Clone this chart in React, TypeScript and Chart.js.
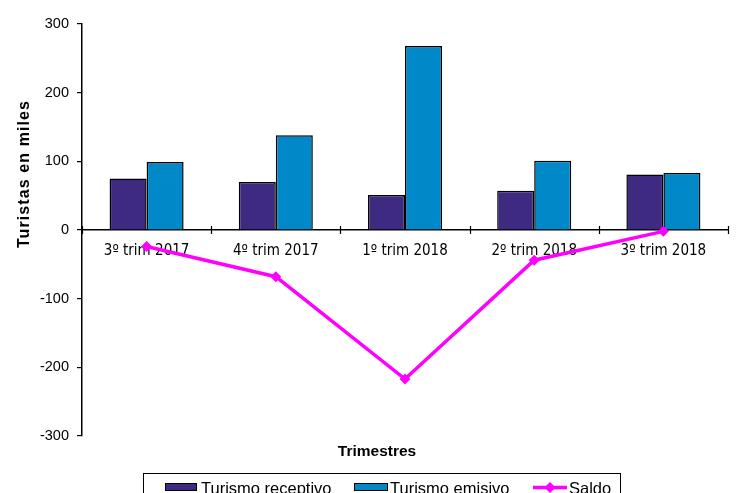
import React, { useEffect, useRef } from "react";
import { Chart, registerables } from "chart.js";

Chart.register(...registerables);

const categories = ["3º trim 2017", "4º trim 2017", "1º trim 2018", "2º trim 2018", "3º trim 2018"];
const receptivo = [75, 70, 51, 57, 81];
const emisivo = [99, 138, 268, 101, 83];
const saldo = [-24, -68, -217, -44, -2];
const yTicks = [-300, -200, -100, 0, 100, 200, 300];

const seriesNames = ["Turismo receptivo", "Turismo emisivo", "Saldo"];
const colReceptivo = "#3f2a82";
const colEmisivo = "#0088c8";
const colSaldo = "#ff00ff";

const decorPlugin = {
  id: "decor",
  beforeDatasetsDraw(chart: any) {
    const ctx = chart.ctx;
    const x = chart.scales.x;
    const y = chart.scales.y;
    const y0 = y.getPixelForValue(0);
    const w = x.getPixelForValue(1) - x.getPixelForValue(0);
    ctx.save();
    ctx.strokeStyle = "#000";
    ctx.lineWidth = 1.2;
    for (let i = 0; i <= categories.length; i++) {
      const px = Math.round(x.getPixelForValue(0) - w / 2 + i * w) + 0.5;
      ctx.beginPath();
      ctx.moveTo(px, y0 - 4);
      ctx.lineTo(px, y0 + 4);
      ctx.stroke();
    }
    ctx.restore();
  },
  afterDraw(chart: any) {
    const ctx = chart.ctx;
    ctx.save();
    // y title
    ctx.fillStyle = "#000";
    ctx.font = "bold 16px 'Liberation Sans', Arial, sans-serif";
    (ctx as any).letterSpacing = "1.1px";
    ctx.translate(25, 174);
    ctx.rotate(-Math.PI / 2);
    ctx.textAlign = "center";
    ctx.textBaseline = "middle";
    ctx.fillText("Turistas en miles", 0, 0);
    ctx.restore();

    ctx.save();
    ctx.fillStyle = "#000";
    ctx.font = "bold 15.5px 'Liberation Sans', Arial, sans-serif";
    ctx.textAlign = "center";
    ctx.textBaseline = "middle";
    ctx.fillText("Trimestres", 377, 452);

    // legend box
    ctx.strokeStyle = "#000";
    ctx.lineWidth = 1;
    ctx.strokeRect(143.5, 473.5, 477, 30);

    ctx.font = "16.5px 'Liberation Sans', Arial, sans-serif";
    ctx.textAlign = "left";
    ctx.textBaseline = "alphabetic";
    // receptivo
    ctx.fillStyle = colReceptivo;
    ctx.fillRect(165, 483, 32, 8);
    ctx.strokeRect(165.5, 483.5, 31, 7);
    ctx.fillStyle = "#000";
    ctx.fillText(seriesNames[0], 201, 494);
    // emisivo
    ctx.fillStyle = colEmisivo;
    ctx.fillRect(354, 483, 34, 8);
    ctx.strokeRect(354.5, 483.5, 33, 7);
    ctx.fillStyle = "#000";
    ctx.fillText(seriesNames[1], 390, 494);
    // saldo
    ctx.strokeStyle = colSaldo;
    ctx.lineWidth = 3.5;
    ctx.beginPath();
    ctx.moveTo(533, 487.5);
    ctx.lineTo(567, 487.5);
    ctx.stroke();
    ctx.fillStyle = colSaldo;
    ctx.beginPath();
    ctx.moveTo(550, 482);
    ctx.lineTo(555.5, 487.5);
    ctx.lineTo(550, 493);
    ctx.lineTo(544.5, 487.5);
    ctx.closePath();
    ctx.fill();
    ctx.fillStyle = "#000";
    ctx.fillText(seriesNames[2], 569, 494);
    ctx.restore();
  },
};

export default function App() {
  const ref = useRef<HTMLCanvasElement | null>(null);
  useEffect(() => {
    if (!ref.current) return;
    const chart = new Chart(ref.current, {
      type: "bar",
      data: {
        labels: categories,
        datasets: [
          {
            type: "line",
            label: seriesNames[2],
            data: saldo,
            borderColor: colSaldo,
            backgroundColor: colSaldo,
            borderWidth: 3.5,
            pointStyle: "rectRot",
            pointRadius: 5.5,
            pointBorderWidth: 0,
            pointBackgroundColor: colSaldo,
            order: 0,
          } as any,
          {
            label: seriesNames[0],
            data: receptivo,
            backgroundColor: colReceptivo,
            borderColor: "#000",
            borderWidth: 1.5,
            categoryPercentage: 0.573,
            barPercentage: 1,
            order: 1,
          },
          {
            label: seriesNames[1],
            data: emisivo,
            backgroundColor: colEmisivo,
            borderColor: "#000",
            borderWidth: 1.5,
            categoryPercentage: 0.573,
            barPercentage: 1,
            order: 1,
          },
        ],
      },
      options: {
        responsive: false,
        animation: false,
        layout: { padding: { left: 0, right: 11, top: 24, bottom: 57 } },
        plugins: {
          legend: { display: false },
          tooltip: { enabled: false },
          title: { display: false },
        },
        scales: {
          x: {
            position: { y: 0 } as any,
            offset: true,
            grid: { display: false, drawTicks: false },
            border: { display: true, color: "#000", width: 1.5 },
            ticks: {
              color: "#000",
              padding: 12,
              maxRotation: 0,
              autoSkip: false,
              font: { family: "'DejaVu Sans Condensed', 'DejaVu Sans', sans-serif", size: 15 },
            },
          },
          y: {
            min: -300,
            max: 300,
            afterFit(scale: any) {
              scale.width = 82;
            },
            afterBuildTicks(scale: any) {
              scale.ticks = yTicks.map((v) => ({ value: v }));
            },
            grid: {
              drawOnChartArea: false,
              drawTicks: true,
              tickLength: 5,
              color: "#000",
              lineWidth: 1.2,
            },
            border: { display: true, color: "#000", width: 1.5 },
            ticks: {
              color: "#000",
              padding: 8,
              font: { family: "'Liberation Sans', Arial, sans-serif", size: 14.5 },
            },
          },
        },
      },
      plugins: [decorPlugin],
    });
    return () => chart.destroy();
  }, []);
  return (
    <div style={{ position: "absolute", left: 0, top: 0, width: 739, height: 493, background: "#fff" }}>
      <canvas ref={ref} width={739} height={493} />
    </div>
  );
}
